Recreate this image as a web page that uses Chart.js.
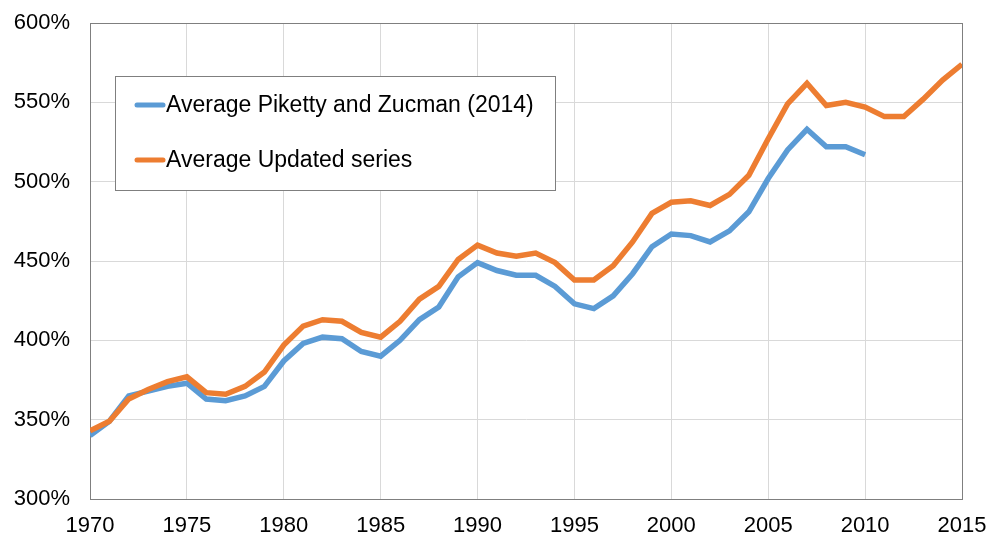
<!DOCTYPE html>
<html>
<head>
<meta charset="utf-8">
<script src="https://cdn.jsdelivr.net/npm/chart.js@4"></script>
<style>
  html, body { margin: 0; padding: 0; background: #fff; }
  #wrap { width: 990px; height: 536px; }
</style>
</head>
<body>
<div id="wrap"><canvas id="wealthChart" width="990" height="536"></canvas></div>
<script>
const years = [1970, 1971, 1972, 1973, 1974, 1975, 1976, 1977, 1978, 1979,
               1980, 1981, 1982, 1983, 1984, 1985, 1986, 1987, 1988, 1989,
               1990, 1991, 1992, 1993, 1994, 1995, 1996, 1997, 1998, 1999,
               2000, 2001, 2002, 2003, 2004, 2005, 2006, 2007, 2008, 2009,
               2010, 2011, 2012, 2013, 2014, 2015];

// 1970-2010 only
const pikettyZucman = [340, 349, 365, 368, 371, 373, 363, 362, 365, 371,
                       387, 398, 402, 401, 393, 390, 400, 413, 421, 440,
                       449, 444, 441, 441, 434, 423, 420, 428, 442, 459,
                       467, 466, 462, 469, 481, 502, 520, 533, 522, 522,
                       517];

const updatedSeries = [343, 349, 363, 369, 374, 377, 367, 366, 371, 380,
                       397, 409, 413, 412, 405, 402, 412, 426, 434, 451,
                       460, 455, 453, 455, 449, 438, 438, 447, 462, 480,
                       487, 488, 485, 492, 504, 527, 549, 562, 548, 550,
                       547, 541, 541, 552, 564, 574];

const seriesLabels = ['Average Piketty and Zucman (2014)', 'Average Updated series'];
const seriesColors = ['#5b9bd5', '#ed7d31'];

const yTicks = [300, 350, 400, 450, 500, 550, 600];

const FONT = "'Liberation Sans', Arial, sans-serif";

function toPoints(values) {
    return values.map((v, i) => ({ x: years[i], y: v }));
}

// no extra room for tick labels, layout.padding decides the plot area
function noScalePadding(scale) {
    scale.paddingTop = 0;
    scale.paddingBottom = 0;
    scale.paddingLeft = 0;
    scale.paddingRight = 0;
}

// grey frame round the plot area, legend box inside it
const framePlugin = {
    id: 'frame',
    beforeDatasetsDraw(chart) {
        const a = chart.chartArea;
        const ctx = chart.ctx;
        ctx.save();
        ctx.strokeStyle = '#7f7f7f';
        ctx.lineWidth = 1;
        ctx.strokeRect(Math.round(a.left) + 0.5, Math.round(a.top) + 0.5,
                       Math.round(a.right - a.left), Math.round(a.bottom - a.top));
        ctx.restore();
    },
    afterDraw(chart) {
        const ctx = chart.ctx;
        ctx.save();
        ctx.fillStyle = '#fff';
        ctx.fillRect(115, 76, 440, 114);
        ctx.strokeStyle = '#7f7f7f';
        ctx.lineWidth = 1;
        ctx.strokeRect(115.5, 76.5, 440, 114);
        const rows = [105, 160];
        chart.data.datasets.forEach((ds, i) => {
            ctx.strokeStyle = ds.borderColor;
            ctx.lineWidth = 5;
            ctx.lineCap = 'round';
            ctx.beginPath();
            ctx.moveTo(137, rows[i]);
            ctx.lineTo(163, rows[i]);
            ctx.stroke();
            ctx.fillStyle = '#000';
            ctx.font = '23px ' + FONT;
            ctx.textBaseline = 'middle';
            ctx.textAlign = 'left';
            ctx.fillText(ds.label, 166, rows[i] + 1);
        });
        ctx.restore();
    }
};

const ctx = document.getElementById('wealthChart').getContext('2d');
const myChart = new Chart(ctx, {
    type: 'line',
    data: {
        datasets: [{
            label: seriesLabels[0],
            data: toPoints(pikettyZucman),
            borderColor: seriesColors[0],
            backgroundColor: seriesColors[0],
            borderWidth: 5.5,
            pointRadius: 0,
            tension: 0,
            order: 1
        }, {
            label: seriesLabels[1],
            data: toPoints(updatedSeries),
            borderColor: seriesColors[1],
            backgroundColor: seriesColors[1],
            borderWidth: 5.5,
            pointRadius: 0,
            tension: 0,
            order: 0
        }]
    },
    options: {
        responsive: false,
        animation: false,
        layout: { padding: { left: 0, right: 28, top: 23, bottom: 0 } },
        plugins: {
            legend: { display: false },
            tooltip: { enabled: false }
        },
        scales: {
            x: {
                type: 'linear',
                min: 1970,
                max: 2015,
                afterFit: scale => { scale.height = 37; noScalePadding(scale); },
                ticks: {
                    stepSize: 5,
                    padding: 14,
                    maxRotation: 0,
                    color: '#000',
                    font: { family: FONT, size: 22 },
                    callback: v => String(v)
                },
                grid: { color: '#d9d9d9', lineWidth: 1, drawTicks: false },
                border: { color: '#595959', width: 1 }
            },
            y: {
                min: 300,
                max: 600,
                afterFit: scale => { scale.width = 90; noScalePadding(scale); },
                afterBuildTicks: scale => { scale.ticks = yTicks.map(v => ({ value: v })); },
                ticks: {
                    padding: 20,
                    color: '#000',
                    font: { family: FONT, size: 22 },
                    callback: v => v + '%'
                },
                grid: { color: '#d9d9d9', lineWidth: 1, drawTicks: false },
                border: { color: '#595959', width: 1 }
            }
        }
    },
    plugins: [framePlugin]
});
</script>
</body>
</html>
